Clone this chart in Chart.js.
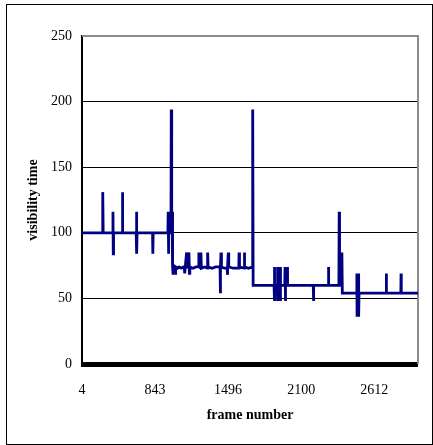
<!DOCTYPE html>
<html>
<head>
<meta charset="utf-8">
<script src="https://cdn.jsdelivr.net/npm/chart.js@4/dist/chart.umd.min.js"></script>
<style>
  body { margin: 0; background: #fff; }
  #frame { position: absolute; left: 6px; top: 4px; width: 425px; height: 439px; border: 1px solid #000; }
  #wrap { position: absolute; left: 0; top: 0; width: 433px; height: 445px; }
</style>
</head>
<body>
<div id="frame"></div>
<div id="wrap"><canvas id="chart" width="433" height="445"></canvas></div>
<script>
// x positions are sample indexes along the category axis (100 samples per labelled tick)
var tickLabels = ['4', '843', '1496', '2100', '2612'];

var frameIdx = [
  0, 27.8, 28.4, 29, 42, 42.4, 42.8, 43.2, 55, 55.4, 55.8,
  74.2, 74.6, 75, 75.4, 96.6, 97, 97.4, 117.6, 118, 118.4, 118.8,
  121.8, 122.2, 122.8, 123.3, 124, 124.6, 125.2,
  127.3, 127.6, 128.2, 131, 133, 136, 139, 140, 140.6, 143.2, 143.8,
  146.4, 147, 147.6, 152, 156, 159.7, 160, 160.6, 162.5, 162.8, 163.4,
  168, 171.7, 172, 172.6, 178, 183, 189, 189.3, 189.8, 190.3, 190.9,
  195, 198.7, 199, 199.6, 200.3, 200.9, 207, 214.7, 215, 215.6,
  221.9, 222.2, 222.8, 228, 233.2, 233.7, 234.3,
  236, 245, 255, 262.9, 263.2, 263.6, 264, 267.1, 267.4, 267.8, 268.2,
  270.8, 271.1, 271.5, 271.9, 277.6, 278, 278.4, 278.8, 280.9, 281.2, 281.6,
  290, 300, 310, 316.6, 316.9, 317.3, 325, 337, 337.4, 337.8,
  351.7, 352.1, 352.6, 355.5, 355.8, 356.4,
  376, 376.3, 376.6, 377.5, 378, 378.5, 379, 379.3,
  416.3, 416.6, 416.9, 436.5, 436.8, 437.1, 460
];

var visibility = [
  100, 100, 131, 100, 100, 116, 84, 100, 100, 131, 100,
  100, 116, 84, 100, 100, 84, 100, 100, 116, 84, 100,
  100, 194, 100, 116, 74, 69, 75,
  74, 69, 74, 73, 74, 73, 74, 74, 69, 85, 73,
  85, 69, 74, 73, 74, 74, 85, 74, 73, 85, 73,
  74, 73, 85, 74, 73, 74, 74, 54, 74, 85, 74,
  73, 73, 68, 74, 85, 74, 73, 73, 85, 74,
  73, 85, 74, 73, 74, 194, 60,
  60, 60, 60, 60, 74, 48, 60, 60, 74, 48, 60,
  60, 74, 48, 60, 60, 74, 48, 60, 60, 74, 60,
  60, 60, 60, 60, 48, 60, 60, 60, 74, 60,
  60, 116, 60, 60, 85, 54,
  54, 69, 37, 69, 37, 69, 37, 54,
  54, 69, 54, 54, 69, 54, 54
];

var points = frameIdx.map(function (x, i) { return { x: x, y: visibility[i] }; });

// gray plot-area frame on top and right, like the spreadsheet original
var plotFrame = {
  id: 'plotFrame',
  beforeDatasetsDraw: function (chart) {
    var a = chart.chartArea, ctx = chart.ctx;
    ctx.save();
    ctx.strokeStyle = '#8c8c8c';
    ctx.lineWidth = 2;
    ctx.beginPath();
    ctx.moveTo(a.left, a.top);
    ctx.lineTo(a.right, a.top);
    ctx.lineTo(a.right, a.bottom);
    ctx.stroke();
    ctx.restore();
  }
};

var serif = 'Liberation Serif, Times New Roman, serif';

new Chart(document.getElementById('chart').getContext('2d'), {
  type: 'line',
  data: {
    datasets: [{
      data: points,
      borderColor: '#000080',
      borderWidth: 2.8,
      pointRadius: 0,
      tension: 0,
      fill: false
    }]
  },
  options: {
    responsive: false,
    animation: false,
    layout: { padding: { top: 36, right: 15, left: 0, bottom: 0 } },
    plugins: { legend: { display: false }, tooltip: { enabled: false } },
    scales: {
      x: {
        type: 'linear',
        min: 0,
        max: 460,
        afterFit: function (s) { s.height = 81; },
        grid: { display: false },
        border: { display: false },
        ticks: {
          stepSize: 100,
          includeBounds: false,
          maxRotation: 0,
          autoSkip: false,
          padding: 10,
          color: '#000',
          font: { family: serif, size: 14 },
          callback: function (v) { return tickLabels[v / 100] || ''; }
        },
        title: {
          display: true,
          text: 'frame number',
          color: '#000',
          font: { family: serif, size: 14, weight: 'bold' },
          padding: { top: 0, bottom: 21 }
        }
      },
      y: {
        min: 0,
        max: 250,
        afterFit: function (s) { s.width = 82; },
        grid: {
          drawTicks: false,
          color: function (c) { return c.tick.value === 250 ? '#8c8c8c' : '#000'; },
          lineWidth: function (c) { return c.tick.value === 0 ? 5 : (c.tick.value === 250 ? 2 : 1); }
        },
        border: { color: '#000', width: 2 },
        ticks: {
          stepSize: 50,
          padding: 10,
          color: '#000',
          font: { family: serif, size: 14 }
        },
        title: {
          display: true,
          text: 'visibility time',
          color: '#000',
          font: { family: serif, size: 14, weight: 'bold' },
          padding: { top: 24.6, bottom: 0 }
        }
      }
    }
  },
  plugins: [plotFrame]
});
</script>
</body>
</html>
